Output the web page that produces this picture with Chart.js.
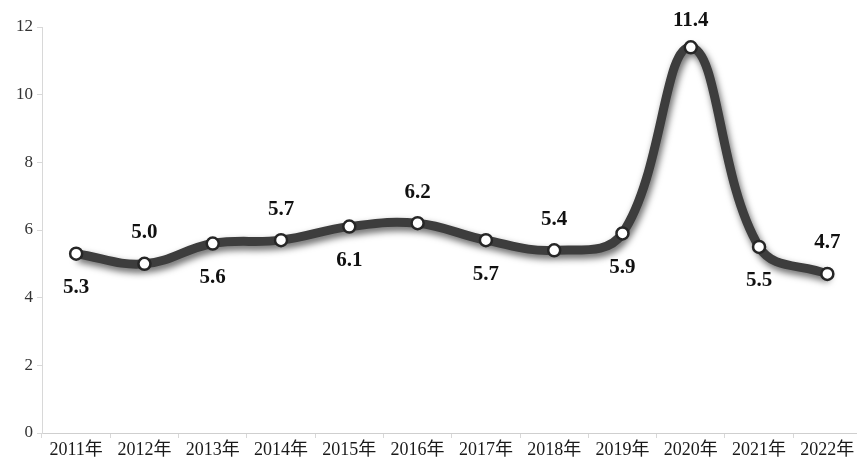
<!DOCTYPE html>
<html>
<head>
<meta charset="utf-8">
<script src="https://cdn.jsdelivr.net/npm/chart.js@4"></script>
<style>
  html, body { margin: 0; padding: 0; background: #fff; overflow: hidden; }
  #wrap { position: relative; width: 870px; height: 463px; }
</style>
</head>
<body>
<div id="wrap"><canvas id="growthChart"></canvas></div>
<script>
const years = ["2011年", "2012年", "2013年", "2014年", "2015年", "2016年",
  "2017年", "2018年", "2019年", "2020年", "2021年", "2022年"];
const values = [5.3, 5.0, 5.6, 5.7, 6.1, 6.2, 5.7, 5.4, 5.9, 11.4, 5.5, 4.7];
const yTicks = [0, 2, 4, 6, 8, 10, 12];

const serif = "'Liberation Serif', 'Times New Roman', 'Noto Sans CJK SC', serif";

// soft drop shadow under the thick line only
const shadowPlugin = {
  id: "lineShadow",
  beforeDatasetDraw(chart, args) {
    if (args.index !== 0) return;
    const ctx = chart.ctx;
    ctx.save();
    ctx.shadowColor = "rgba(0,0,0,0.6)";
    ctx.shadowBlur = 7;
    ctx.shadowOffsetX = 2;
    ctx.shadowOffsetY = 4;
  },
  afterDatasetDraw(chart, args) {
    if (args.index !== 0) return;
    chart.ctx.restore();
  }
};

// value labels, alternating below / above the points
const valueLabels = {
  id: "valueLabels",
  afterDatasetsDraw(chart) {
    const ctx = chart.ctx;
    const meta = chart.getDatasetMeta(0);
    ctx.save();
    ctx.font = "bold 21px " + serif;
    ctx.fillStyle = "#111";
    ctx.textAlign = "center";
    ctx.textBaseline = "middle";
    meta.data.forEach((pt, i) => {
      const dy = i % 2 === 0 ? 34 : -31;
      ctx.fillText(values[i].toFixed(1), pt.x, Math.max(pt.y + dy, 21));
    });
    ctx.restore();
  }
};

new Chart(document.getElementById("growthChart"), {
  type: "line",
  data: {
    labels: years,
    datasets: [{
      data: values,
      order: 2,
      borderColor: "#3d3d3d",
      borderWidth: 9,
      tension: 0.4,
      pointRadius: 0,
      fill: false
    }, {
      data: values,
      order: 1,
      showLine: false,
      pointRadius: 6,
      pointBorderWidth: 2.5,
      pointBackgroundColor: "#ffffff",
      pointBorderColor: "#262626"
    }]
  },
  options: {
    responsive: true,
    maintainAspectRatio: false,
    animation: false,
    layout: { padding: { top: 27, right: 0, left: 0, bottom: 0 } },
    plugins: {
      legend: { display: false },
      tooltip: { enabled: false }
    },
    scales: {
      x: {
        offset: true,
        grid: { offset: true, drawOnChartArea: false, tickLength: 5, color: "#d8d8d8" },
        border: { color: "#cfcfcf" },
        ticks: {
          autoSkip: false,
          maxRotation: 0,
          padding: 1,
          color: "#1a1a1a",
          font: { family: serif, size: 18 }
        },
        afterFit(scale) { scale.height = 30; }
      },
      y: {
        min: 0,
        max: 12,
        afterBuildTicks(scale) { scale.ticks = yTicks.map(v => ({ value: v })); },
        grid: { drawOnChartArea: false, tickLength: 5, color: "#d8d8d8" },
        border: { color: "#d8d8d8" },
        ticks: {
          padding: 4,
          color: "#333",
          font: { family: serif, size: 17 }
        },
        afterFit(scale) { scale.width = 42; }
      }
    }
  },
  plugins: [shadowPlugin, valueLabels]
});
</script>
</body>
</html>
